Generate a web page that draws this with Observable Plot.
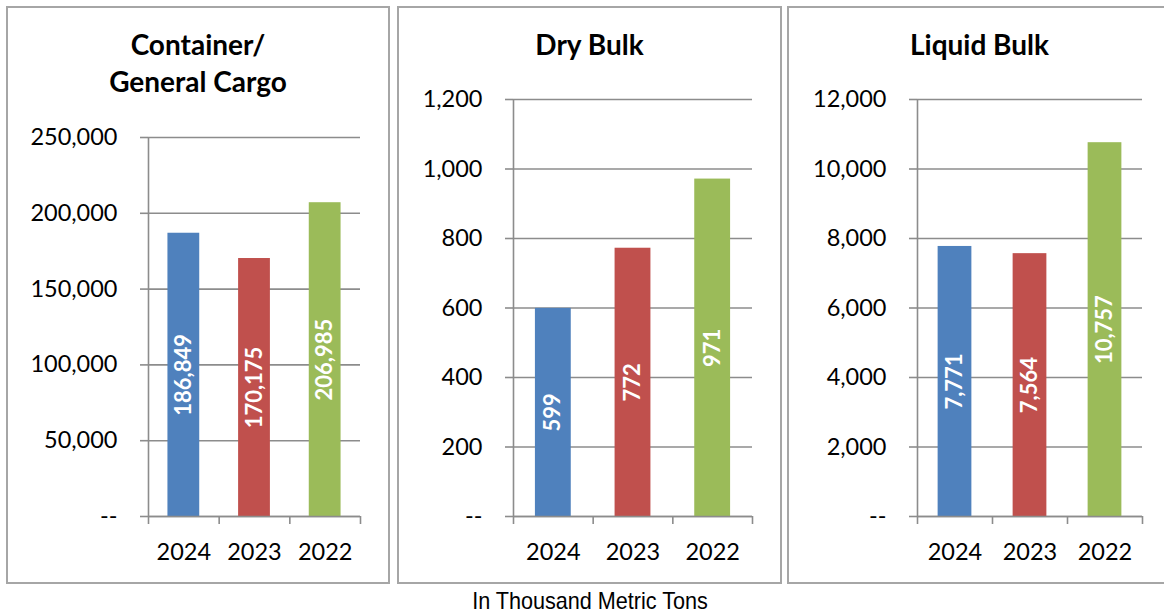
<!DOCTYPE html>
<html>
<head>
<meta charset="utf-8">
<script src="https://cdn.jsdelivr.net/npm/d3@7"></script>
<script src="https://cdn.jsdelivr.net/npm/@observablehq/plot@0.6"></script>
<style>
  html, body { margin: 0; padding: 0; background: #fff; }
  #root { position: relative; width: 1164px; height: 614px; overflow: hidden; background: #fff; }
  .box { position: absolute; border: 2px solid #a6a6a6; background: #fff; }
  .box svg { position: absolute; left: 0; top: 0; }
  .title { position: absolute; left: 0; right: 0; top: 18px; text-align: center;
           font-family: Lato, "Open Sans", sans-serif; font-weight: bold; font-size: 28px;
           line-height: 37px; color: #000; }
  .caption { position: absolute; left: 290px; width: 600px; top: 589px; text-align: center;
             font-family: "Liberation Sans", Arial, sans-serif; font-size: 24px; line-height: 24px;
             color: #000; transform: scaleX(0.9); transform-origin: 300px 0; white-space: nowrap; }
</style>
</head>
<body>
<div id="root"></div>
<script>
// ---- data ----
const years = ["2024", "2023", "2022"];
const barColors = ["#4f81bd", "#c0504d", "#9bbb59"];
const containerValues = [186849, 170175, 206985];
const dryBulkValues = [599, 772, 971];
const liquidBulkValues = [7771, 7564, 10757];
const containerTicks = [0, 50000, 100000, 150000, 200000, 250000];
const dryBulkTicks = [0, 200, 400, 600, 800, 1000, 1200];
const liquidBulkTicks = [0, 2000, 4000, 6000, 8000, 10000, 12000];
const panelTitles = [["Container/", "General Cargo"], ["Dry Bulk"], ["Liquid Bulk"]];
const captionText = "In Thousand Metric Tons";

// ---- layout ----
const panels = [
  {values: containerValues, ticks: containerTicks, title: panelTitles[0],
   left: 6, width: 380, marginLeft: 140, marginRight: 28},
  {values: dryBulkValues, ticks: dryBulkTicks, title: panelTitles[1],
   left: 397, width: 381, marginLeft: 114, marginRight: 28},
  {values: liquidBulkValues, ticks: liquidBulkTicks, title: panelTitles[2],
   left: 787, width: 381, marginLeft: 128, marginRight: 28}
];
const boxTop = 6, boxHeight = 574, marginBottom = 66;
const topMargins = [129, 91, 91];

const fmt = d3.format(",");
const axisGray = "#8c8c8c";
const root = document.getElementById("root");

panels.forEach((p, k) => {
  const data = p.values.map((v, i) => ({i, year: years[i], value: v}));
  const band = (p.width - p.marginLeft - p.marginRight) / years.length;
  const inset = band * 0.275;
  const box = document.createElement("div");
  box.className = "box";
  box.style.left = p.left + "px";
  box.style.top = boxTop + "px";
  box.style.width = p.width + "px";
  box.style.height = boxHeight + "px";

  const svg = Plot.plot({
    width: p.width,
    height: boxHeight,
    marginLeft: p.marginLeft,
    marginRight: p.marginRight,
    marginTop: topMargins[k],
    marginBottom: marginBottom,
    style: {fontFamily: "Lato, 'Open Sans', sans-serif", fontSize: "23.5px", color: "#000", background: "transparent", overflow: "visible"},
    x: {domain: [0, years.length]},
    y: {domain: [0, p.ticks[p.ticks.length - 1]]},
    color: {domain: years, range: barColors},
    marks: [
      Plot.gridY({ticks: p.ticks, stroke: axisGray, strokeOpacity: 1, strokeWidth: 1.6}),
      Plot.axisY({ticks: p.ticks, tickSize: 8, tickPadding: 23, stroke: axisGray, strokeWidth: 1.6,
                  fill: "#000", label: null, tickFormat: d => d === 0 ? "--" : fmt(d)}),
      Plot.axisX({ticks: d3.range(years.length + 1), tickSize: 8, stroke: axisGray, strokeWidth: 1.6,
                  tickFormat: () => "", label: null}),
      Plot.axisX({ticks: years.map((y, i) => i + 0.5), tickSize: 0, tickPadding: 27, fill: "#000",
                  tickFormat: d => years[Math.floor(d)], label: null}),
      Plot.rectY(data, {x1: "i", x2: d => d.i + 1, y: "value", fill: "year", insetLeft: inset, insetRight: inset}),
      Plot.ruleX([0], {stroke: axisGray, strokeWidth: 1.6}),
      Plot.ruleY([0], {stroke: axisGray, strokeWidth: 1.6}),
      Plot.text(data, {x: d => d.i + 0.5, y: d => d.value / 2, text: d => fmt(d.value), rotate: -90,
                       fill: "#fff", fontWeight: "bold", fontSize: 22})
    ]
  });
  box.appendChild(svg);

  const t = document.createElement("div");
  t.className = "title";
  t.innerHTML = p.title.join("<br>");
  box.appendChild(t);
  root.appendChild(box);
});

const cap = document.createElement("div");
cap.className = "caption";
cap.textContent = captionText;
root.appendChild(cap);
</script>
</body>
</html>
